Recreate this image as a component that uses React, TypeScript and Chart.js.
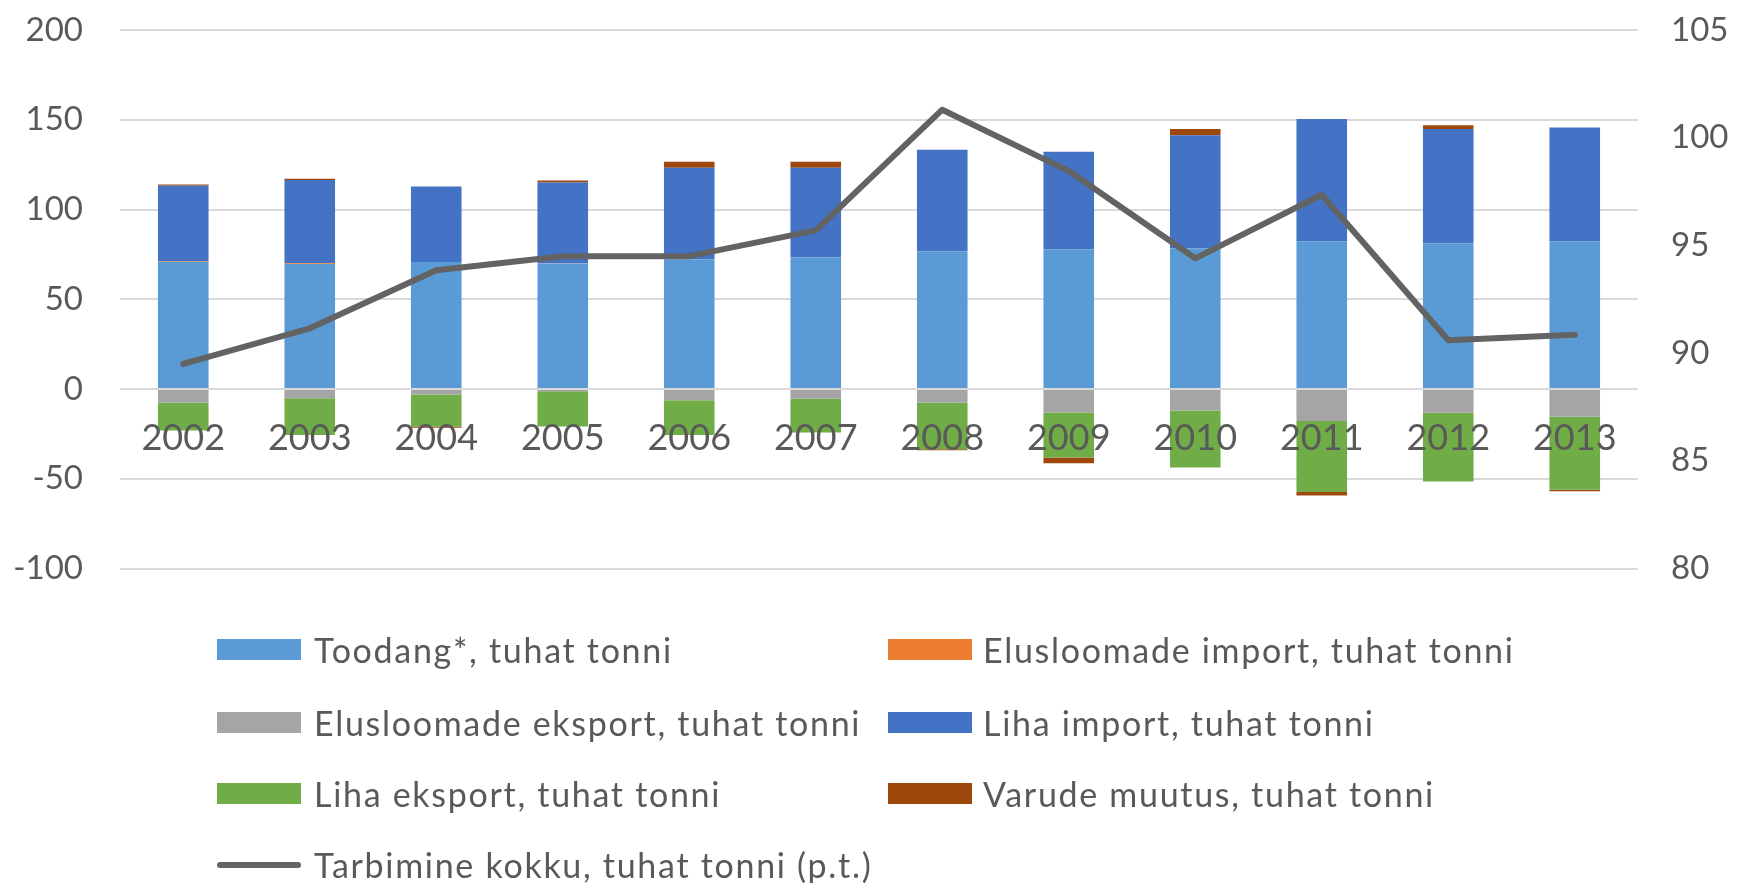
import React, { useEffect, useRef } from 'react';
import { Chart, registerables } from 'chart.js';

Chart.register(...registerables);

const years = ['2002', '2003', '2004', '2005', '2006', '2007', '2008', '2009', '2010', '2011', '2012', '2013'];
const toodang = [70.8, 69.7, 70.8, 69.9, 72.1, 73.2, 76.8, 77.9, 78.3, 82.3, 81.0, 82.3];
const elusImport = [0.3, 0.3, 0, 0.2, 0, 0, 0, 0, 0, 0, 0, 0];
const elusEksport = [-7.6, -5.2, -3.0, -1.3, -6.3, -5.4, -7.6, -13.1, -12.0, -17.8, -13.3, -15.4];
const lihaImport = [42.1, 46.4, 42.0, 45.0, 51.1, 50.0, 56.5, 54.3, 63.1, 68.1, 63.8, 63.4];
const lihaEksport = [-15.5, -20.4, -17.9, -19.6, -19.3, -18.9, -25.9, -25.0, -31.7, -39.6, -38.2, -40.7];
const varude = [0.7, 0.8, -0.7, 1.0, 3.4, 3.4, -0.6, -3.2, 3.4, -2.0, 2.2, -0.8];
const tarbimine = [89.5, 91.15, 93.85, 94.5, 94.5, 95.7, 101.3, 98.45, 94.4, 97.35, 90.6, 90.85];

const leftTicks = { min: -100, max: 200, step: 50 };
const rightTicks = { min: 80, max: 105, step: 5 };

const seriesNames = [
  'Toodang*, tuhat tonni',
  'Elusloomade import, tuhat tonni',
  'Elusloomade eksport, tuhat tonni',
  'Liha import, tuhat tonni',
  'Liha eksport, tuhat tonni',
  'Varude muutus, tuhat tonni',
  'Tarbimine kokku, tuhat tonni (p.t.)',
];
const seriesColors = ['#5B9BD5', '#ED7D31', '#A5A5A5', '#4472C4', '#70AD47', '#9E480E', '#636363'];

const FONT = 'Lato, "Open Sans", sans-serif';
const TEXT = '#595959';

export default function App() {
  const ref = useRef<HTMLCanvasElement>(null);

  useEffect(() => {
    document.body.style.margin = '0';
    const barValues = [toodang, elusImport, elusEksport, lihaImport, lihaEksport, varude];
    const barSets = barValues.map((d, i) => ({
      type: 'bar' as const,
      label: seriesNames[i],
      data: d,
      backgroundColor: seriesColors[i],
      borderWidth: 0,
      yAxisID: 'y',
      barPercentage: 0.4,
      categoryPercentage: 1,
      order: 1,
    }));
    const chart = new Chart(ref.current!, {
      type: 'bar',
      data: {
        labels: years,
        datasets: [
          ...barSets,
          {
            type: 'line' as const,
            label: seriesNames[6],
            data: tarbimine,
            borderColor: seriesColors[6],
            backgroundColor: seriesColors[6],
            borderWidth: 6,
            pointRadius: 0,
            borderCapStyle: 'round',
            borderJoinStyle: 'round',
            tension: 0,
            yAxisID: 'y1',
            order: 0,
          } as any,
        ],
      },
      options: {
        responsive: false,
        animation: false,
        devicePixelRatio: 1,
        layout: { padding: { top: 30, bottom: 314.5, left: 0, right: 0 } },
        plugins: { legend: { display: false }, tooltip: { enabled: false } },
        scales: {
          x: {
            type: 'category',
            position: { y: 0 } as any,
            stacked: true,
            offset: true,
            grid: { display: false, drawTicks: false },
            border: { display: false },
            ticks: {
              color: TEXT,
              font: { family: FONT, size: 36 },
              padding: 28,
              z: 1,
              maxRotation: 0,
              autoSkip: false,
            },
          },
          y: {
            position: 'left',
            stacked: true,
            min: leftTicks.min,
            max: leftTicks.max,
            ticks: { stepSize: leftTicks.step, color: TEXT, font: { family: FONT, size: 33 }, padding: 0 },
            grid: { color: '#d9d9d9', lineWidth: 2, drawTicks: true, tickLength: 37, tickColor: 'rgba(0,0,0,0)' },
            border: { display: false },
            afterFit: (s: any) => {
              s.width = 120;
            },
          },
          y1: {
            position: 'right',
            min: rightTicks.min,
            max: rightTicks.max,
            ticks: { stepSize: rightTicks.step, color: TEXT, font: { family: FONT, size: 33 }, padding: 0 },
            grid: { display: false, drawTicks: true, tickLength: 33, tickColor: 'rgba(0,0,0,0)' },
            border: { display: false },
            afterFit: (s: any) => {
              s.width = 103;
            },
          },
        },
      } as any,
    });
    return () => chart.destroy();
  }, []);

  const rowsY = [649.5, 722.8, 793.9, 865];
  const colSwatchX = [217, 888];
  const colTextX = [314, 983];

  return (
    <div style={{ position: 'absolute', left: 0, top: 0, width: 1741, height: 883, background: '#fff', overflow: 'hidden' }}>
      <canvas ref={ref} width={1741} height={883} style={{ position: 'absolute', left: 0, top: 0, width: 1741, height: 883 }} />
      {seriesNames.map((name, i) => {
        const row = Math.floor(i / 2);
        const col = i % 2;
        const cy = rowsY[row];
        const isLine = i === 6;
        return (
          <React.Fragment key={name}>
            <div
              style={{
                position: 'absolute',
                left: colSwatchX[col],
                top: isLine ? cy - 3 : cy - 10.5,
                width: 84,
                height: isLine ? 6 : 21,
                background: seriesColors[i],
                borderRadius: isLine ? 3 : 0,
              }}
            />
            <div
              style={{
                position: 'absolute',
                left: colTextX[col],
                top: cy - 22,
                height: 44,
                lineHeight: '44px',
                fontFamily: FONT,
                fontSize: 34,
                letterSpacing: '1.7px',
                color: TEXT,
                whiteSpace: 'nowrap',
              }}
            >
              {name}
            </div>
          </React.Fragment>
        );
      })}
    </div>
  );
}
